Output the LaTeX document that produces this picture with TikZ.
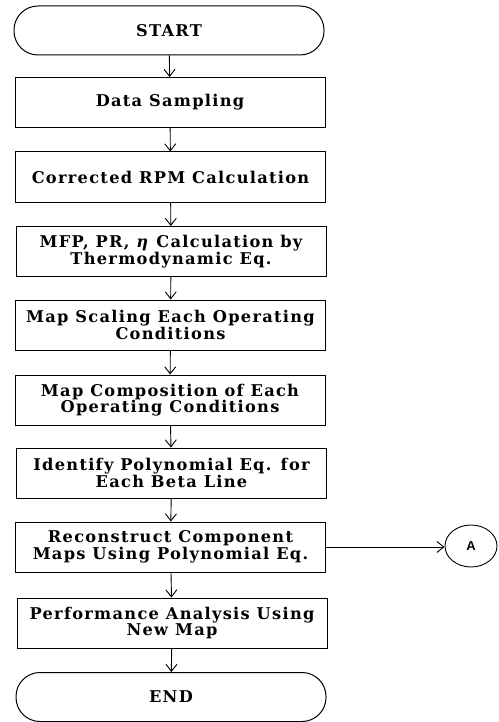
\documentclass[tikz,border=0pt]{standalone}
\usepackage{fontspec}
\setmainfont{DejaVu Serif}[LetterSpace=8]
\newfontfamily\labelfont{Liberation Sans}
\usetikzlibrary{arrows.meta,shapes.geometric}
\tikzset{
  every node/.style={font=\fontsize{16.2}{15}\selectfont\bfseries,
    align=center, inner sep=0pt},
  stepbox/.style={draw, line width=1pt, minimum width=310pt, minimum height=50pt},
  terminal/.style={draw, line width=1pt, rounded corners=24pt, minimum width=310pt, minimum height=49pt},
  flow/.style={line width=0.9pt, -{Straight Barb[length=7pt,width=11pt,line width=0.9pt]}},
  connector/.style={draw, ellipse, line width=0.9pt, minimum width=52pt, minimum height=42pt,
    font=\labelfont\fontsize{13}{14}\selectfont\bfseries}
}
\begin{document}
\begin{tikzpicture}[x=1pt, y=-1pt]
\useasboundingbox (0,0) rectangle (498,722);

\node[terminal] (start) at (169,30.5) {START};
\node[stepbox]  (data)  at (170,102.5) {Data Sampling};
\node[stepbox]  (rpm)   at (170.5,177) {Corrected RPM Calculation};
\node[stepbox]  (mfp)   at (171,251.5) {MFP, PR, \textit{η} Calculation by\\Thermodynamic Eq.};
\node[stepbox]  (scale) at (170.5,325) {Map Scaling Each Operating\\Conditions};
\node[stepbox]  (comp)  at (170,400) {Map Composition of Each\\Operating Conditions};
\node[stepbox]  (ident) at (171.5,473) {Identify Polynomial Eq. for\\Each Beta Line};
\node[stepbox]  (recon) at (170.5,547) {Reconstruct Component\\Maps Using Polynomial Eq.};
\node[stepbox]  (perf)  at (172,623) {Performance Analysis Using\\New Map};
\node[terminal] (end)   at (171,697) {END};

\node[connector] (A) at (471,546) {A};

\draw[flow] (start) -- (data);
\draw[flow] (data) -- (rpm);
\draw[flow] (rpm) -- (mfp);
\draw[flow] (mfp) -- (scale);
\draw[flow] (scale) -- (comp);
\draw[flow] (comp) -- (ident);
\draw[flow] (ident) -- (recon);
\draw[flow] (recon) -- (perf);
\draw[flow] (perf) -- (end);
\draw[flow] (recon) -- (recon -| A.west);
\end{tikzpicture}
\end{document}
